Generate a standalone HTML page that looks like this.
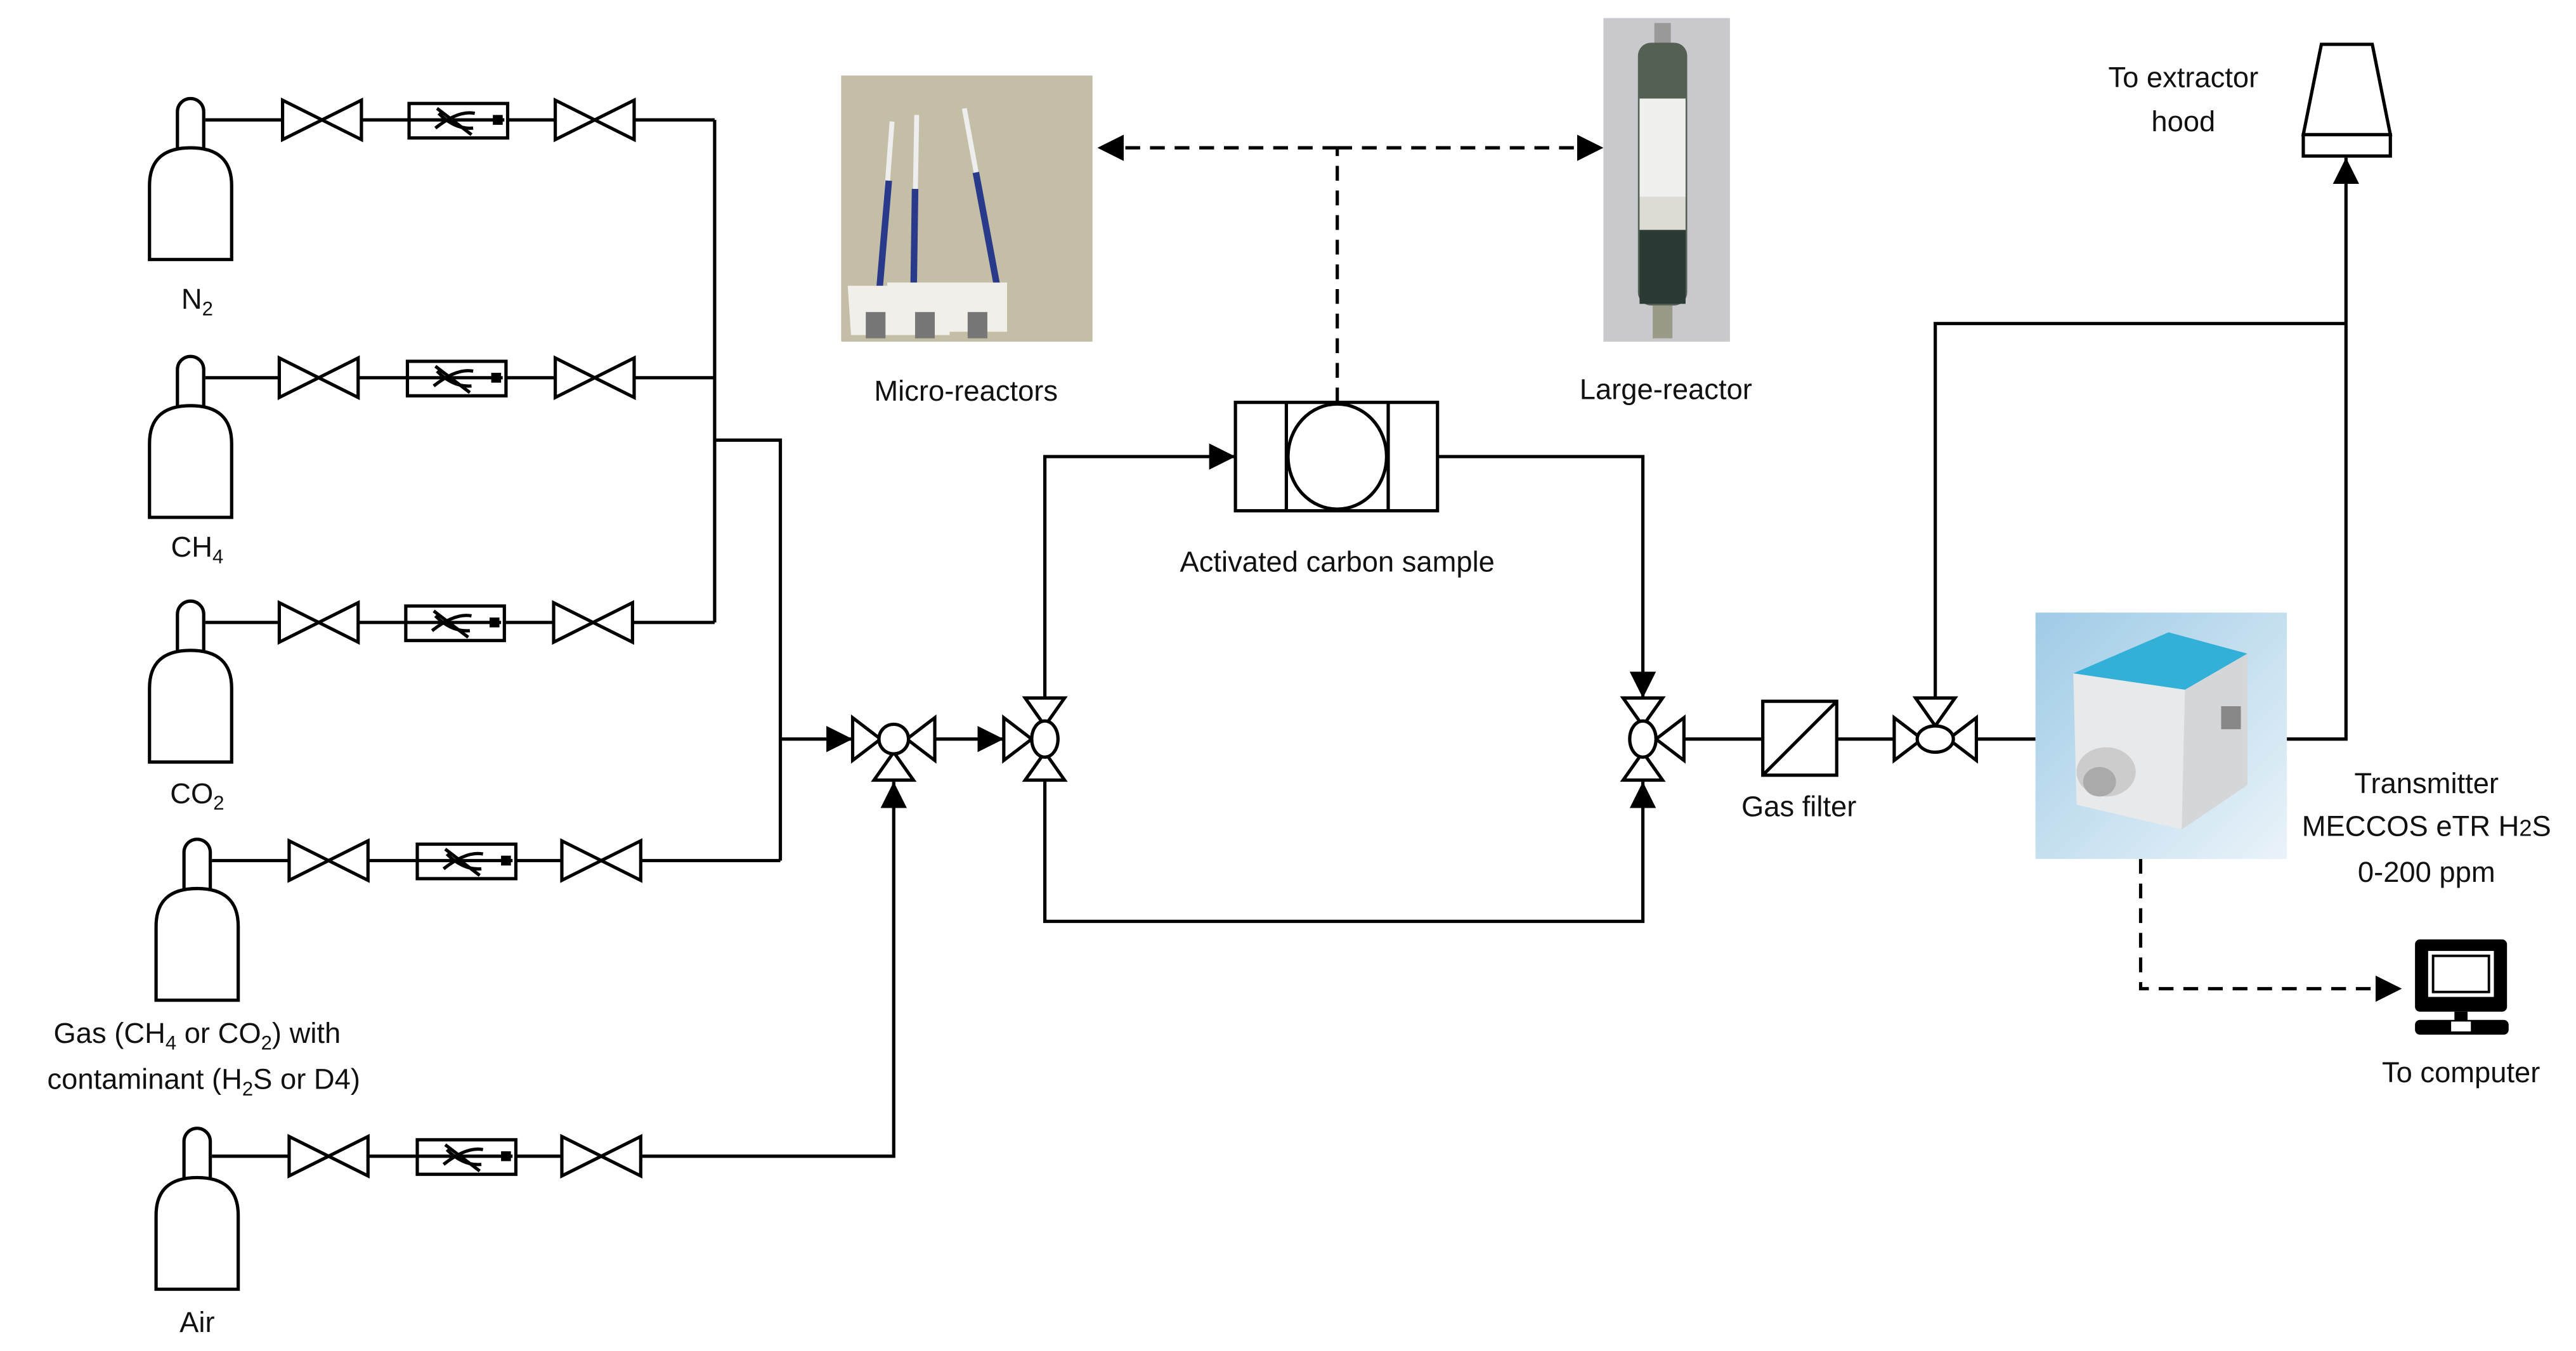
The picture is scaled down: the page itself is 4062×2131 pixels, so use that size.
<!DOCTYPE html>
<html><head><meta charset="utf-8"><style>
html,body{margin:0;padding:0;background:#fff;}
svg{display:block;}
text{font-family:"Liberation Sans",sans-serif;font-size:17.5px;fill:#111;}
</style></head><body>
<svg width="4062" height="2131" viewBox="0 0 1568 822.6" xmlns="http://www.w3.org/2000/svg">
<defs>
<marker id="ar2" viewBox="0 0 10 10" refX="10" refY="5" markerWidth="16" markerHeight="16" markerUnits="userSpaceOnUse" orient="auto"><path d="M0,0L10,5L0,10z" fill="#000"/></marker>
<g id="cyl" fill="#fff" stroke="#000" stroke-width="2">
<path d="M-8,17 V-5 A8,8 0 0 1 8,-5 V17"/>
<path d="M-25,85 V40 Q-25,17 0,17 Q25,17 25,40 V85 Z"/>
</g>
<g id="valve" fill="#fff" stroke="#000" stroke-width="2"><polygon points="-24,-12 24,12 24,-12 -24,12"/></g>
<g id="fm" fill="#fff" stroke="#000" stroke-width="2">
<rect x="-30" y="-10" width="60" height="21"/>
<line x1="-30" y1="0" x2="28" y2="0"/>
<path d="M-13,-7 L8,9 M-14,5 Q0,-6 10,-4 M-12,-4 Q-2,6 9,5" fill="none"/>
<rect x="22" y="-2" width="4" height="4" fill="#000"/>
</g>
</defs>
<g stroke="#000" stroke-width="2" fill="none">
<path d="M125,73 H435 M125,230 H435 M125,379 H435 M435,73 V379 M435,268 H475 V524 M129,524 H475"/>
<path d="M129,704 H544 V476" marker-end="url(#ar2)"/>
<path d="M475,450 H519" marker-end="url(#ar2)"/>
<path d="M569,450 H611" marker-end="url(#ar2)"/>
<path d="M636,425 V278 H752" marker-end="url(#ar2)"/>
<path d="M875,278 H1000 V425" marker-end="url(#ar2)"/>
<path d="M636,475 V561 H1000 V476" marker-end="url(#ar2)"/>
<path d="M1025,450 H1073 M1118,450 H1153 M1203,450 H1239"/>
<path d="M1178,425 V197 H1428"/>
<path d="M1392,450 H1428 V96" marker-end="url(#ar2)"/>
<path d="M814,245 V90" stroke-dasharray="9,6"/>
<path d="M814,90 H668" stroke-dasharray="9,6" marker-end="url(#ar2)"/>
<path d="M814,90 H976" stroke-dasharray="9,6" marker-end="url(#ar2)"/>
<path d="M1303,523 V602 H1462" stroke-dasharray="9,6" marker-end="url(#ar2)"/>
</g>
<use href="#cyl" x="116" y="73"/>
<use href="#cyl" x="116" y="230"/>
<use href="#cyl" x="116" y="379"/>
<use href="#cyl" x="120" y="524"/>
<use href="#cyl" x="120" y="700"/>
<use href="#valve" x="196" y="73"/><use href="#fm" x="279" y="73"/><use href="#valve" x="362" y="73"/>
<use href="#valve" x="194" y="230"/><use href="#fm" x="278" y="230"/><use href="#valve" x="362" y="230"/>
<use href="#valve" x="194" y="379"/><use href="#fm" x="277" y="379"/><use href="#valve" x="361" y="379"/>
<use href="#valve" x="200" y="524"/><use href="#fm" x="284" y="524"/><use href="#valve" x="366" y="524"/>
<use href="#valve" x="200" y="704"/><use href="#fm" x="284" y="704"/><use href="#valve" x="366" y="704"/>
<g fill="#fff" stroke="#000" stroke-width="2">
<g transform="translate(544,450)"><polygon points="-8,0 -25,-13 -25,13"/><polygon points="8,0 25,-13 25,13"/><polygon points="0,8 -12,25 12,25"/><circle r="9"/></g>
<g transform="translate(636,450)"><polygon points="-8,0 -25,-13 -25,13"/><polygon points="0,-8 -12,-25 12,-25"/><polygon points="0,8 -12,25 12,25"/><ellipse rx="8" ry="11"/></g>
<g transform="translate(1000,450)"><polygon points="8,0 25,-13 25,13"/><polygon points="0,-8 -12,-25 12,-25"/><polygon points="0,8 -12,25 12,25"/><ellipse rx="8" ry="11"/></g>
<g transform="translate(1178,450)"><polygon points="-8,0 -25,-13 -25,13"/><polygon points="8,0 25,-13 25,13"/><polygon points="0,-8 -12,-25 12,-25"/><ellipse rx="11" ry="8"/></g>
<rect x="752" y="245" width="123" height="66"/><line x1="783" y1="245" x2="783" y2="311"/><line x1="845" y1="245" x2="845" y2="311"/>
<ellipse cx="814" cy="278" rx="30" ry="32"/>
<rect x="1073" y="427" width="45" height="45"/><line x1="1073" y1="472" x2="1118" y2="427"/>
<polygon points="1413,27 1444,27 1455,82 1402,82"/><rect x="1402" y="82" width="53" height="13"/>
</g>
<g>
<rect x="1470" y="572" width="56" height="44" rx="3" fill="#000"/>
<rect x="1478" y="579" width="40" height="28" fill="#fff"/>
<rect x="1481" y="582" width="34" height="22" fill="none" stroke="#000" stroke-width="1.5"/>
<rect x="1494" y="616" width="8" height="7" fill="#000"/>
<rect x="1470" y="621" width="57" height="9" rx="3" fill="#000"/>
<rect x="1492" y="622" width="12" height="6" fill="#fff"/>
</g>
<g>
<rect x="512" y="46" width="153" height="162" fill="#c4bea6"/>
<path d="M543,74 L535,180 M558,70 L556,185 M587,66 L608,180" stroke="#eee" stroke-width="3"/>
<path d="M541,110 L535,180 M557,115 L556,185 M594,105 L608,180" stroke="#2a3a8a" stroke-width="4"/>
<path d="M516,174 h36 v30 h-34z M540,172 h38 v32 h-36z M573,172 h40 v30 h-38z" fill="#f1efea"/>
<rect x="527" y="190" width="12" height="16" fill="#777"/><rect x="557" y="190" width="12" height="16" fill="#777"/><rect x="589" y="190" width="12" height="16" fill="#777"/>
</g>
<g>
<rect x="976" y="11" width="77" height="197" fill="#c9c9cd"/>
<rect x="1007" y="14" width="10" height="14" fill="#999"/>
<rect x="997" y="26" width="30" height="160" rx="8" fill="#556055"/>
<rect x="998" y="60" width="28" height="60" fill="#f0f0ee"/>
<rect x="998" y="120" width="28" height="20" fill="#dcdcd5"/>
<rect x="998" y="140" width="28" height="45" fill="#2b3a34"/>
<rect x="1006" y="186" width="12" height="20" fill="#9a9a88"/>
</g>
<g>
<defs><linearGradient id="bg" x1="0" y1="0" x2="1" y2="1"><stop offset="0" stop-color="#9fcbe6"/><stop offset="1" stop-color="#eaf3f9"/></linearGradient></defs>
<rect x="1239" y="373" width="153" height="150" fill="url(#bg)"/>
<polygon points="1262,410 1320,385 1368,398 1330,420" fill="#33b0d8"/>
<polygon points="1262,410 1330,420 1328,505 1264,490" fill="#e8e9ea"/>
<polygon points="1330,420 1368,398 1368,478 1328,505" fill="#d4d6d8"/>
<ellipse cx="1282" cy="470" rx="18" ry="15" fill="#ccc"/>
<ellipse cx="1278" cy="476" rx="10" ry="9" fill="#aaa"/>
<rect x="1352" y="430" width="12" height="14" fill="#888"/>
</g>
<text x="120" y="188" text-anchor="middle">N<tspan font-size="12" dy="4">2</tspan></text>
<text x="120" y="339" text-anchor="middle">CH<tspan font-size="12" dy="4">4</tspan></text>
<text x="120" y="489" text-anchor="middle">CO<tspan font-size="12" dy="4">2</tspan></text>
<text x="120" y="635" text-anchor="middle">Gas (CH<tspan font-size="12" dy="4">4</tspan><tspan dy="-4"> or CO</tspan><tspan font-size="12" dy="4">2</tspan><tspan dy="-4">) with</tspan></text>
<text x="124" y="663" text-anchor="middle">contaminant (H<tspan font-size="12" dy="4">2</tspan><tspan dy="-4">S or D4)</tspan></text>
<text x="120" y="811" text-anchor="middle">Air</text>
<text x="588" y="244" text-anchor="middle">Micro-reactors</text>
<text x="1014" y="243" text-anchor="middle">Large-reactor</text>
<text x="814" y="348" text-anchor="middle">Activated carbon sample</text>
<text x="1095" y="497" text-anchor="middle">Gas filter</text>
<text x="1329" y="53" text-anchor="middle">To extractor</text>
<text x="1329" y="80" text-anchor="middle">hood</text>
<text x="1477" y="483" text-anchor="middle">Transmitter</text>
<text x="1477" y="509" text-anchor="middle">MECCOS eTR H<tspan font-size="14">2</tspan>S</text>
<text x="1477" y="537" text-anchor="middle">0-200 ppm</text>
<text x="1498" y="659" text-anchor="middle">To computer</text>
</svg>
</body></html>
